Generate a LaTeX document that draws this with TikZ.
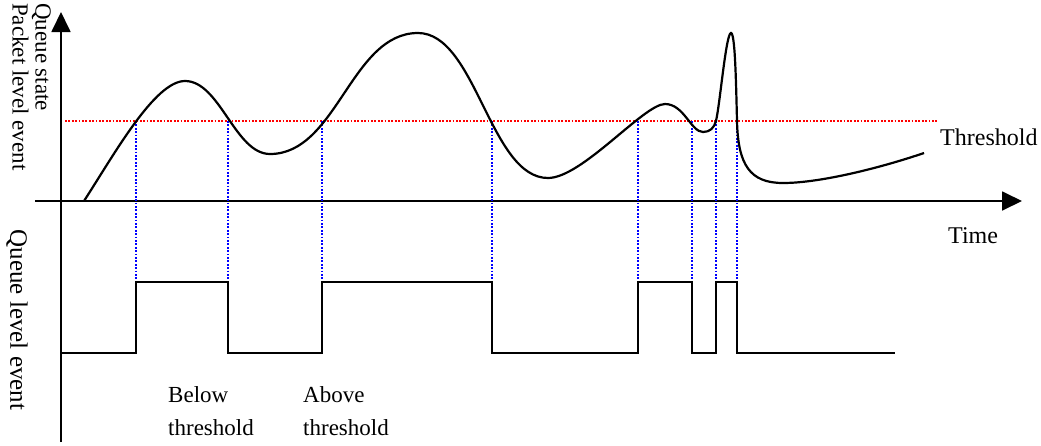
\documentclass[tikz,border=0pt]{standalone}
\usepackage{fontspec}
\setmainfont{Liberation Serif}
\usetikzlibrary{arrows.meta}

\begin{document}
\begin{tikzpicture}[x=1pt, y=-1pt,
  font=\fontsize{23}{33}\selectfont,
  axis/.style={line width=1.8pt, -{Triangle[length=20pt,width=19pt]}},
  level/.style={line width=1.8pt},
  dots/.style={line width=1.7pt, dash pattern=on 1.7pt off 1.7pt},
  drop/.style={dots, blue}]
\useasboundingbox (0,0) rectangle (1041,445);
\coordinate (ybot) at (61,442);
\coordinate (ytop) at (61,12);
\coordinate (xbeg) at (35,201);
\coordinate (xend) at (1022,201);
\coordinate (thbeg) at (65,121);
\coordinate (thend) at (938,121);
\draw[dots, red] (thbeg) -- (thend);
\draw[axis] (ybot) -- (ytop);
\draw[axis] (xbeg) -- (xend);
\foreach \x in {136,228,322,492,638,692,716,737} {
  \draw[drop] (\x,121) -- (\x,282);
}
\draw[line width=2.2pt] (84,201) .. controls (115,153) and (155,81) .. (185,81)
  .. controls (220,81) and (235,154) .. (270,154)
  .. controls (337,154) and (351,33) .. (418,33)
  .. controls (476,33) and (490,178) .. (548,178)
  .. controls (582,178) and (644,104) .. (665,104)
  .. controls (684,104) and (691,132) .. (703,132)
  .. controls (710,132) and (714,128) .. (716,121)
  .. controls (720,104) and (726,33) .. (731,33)
  .. controls (735,33) and (736,80) .. (737,121)
  .. controls (738,165) and (750,183) .. (783,183)
  .. controls (820,183) and (880,168) .. (924,153);
\draw[level] (61,353) -- (136,353) -- (136,282) -- (228,282) -- (228,353) -- (322,353) -- (322,282) -- (492,282) -- (492,353) -- (638,353) -- (638,282) -- (692,282) -- (692,353) -- (716,353) -- (716,282) -- (737,282) -- (737,353) -- (895,353);
\node[anchor=north west, inner sep=0, align=left, rotate=-90, font=\fontsize{23}{23}\selectfont] (pktlbl) at (51,3) {Queue state\\Packet level event};
\node[inner sep=0, rotate=-90, font=\fontsize{25}{25}\selectfont] (qlbl) at (17,320) {Queue level event};
\node[anchor=base west, inner sep=0, font=\fontsize{24}{24}\selectfont] (thlbl) at (940,145) {Threshold};
\node[anchor=base west, inner sep=0, font=\fontsize{24}{24}\selectfont] (tlbl) at (948,243) {Time};
\node[anchor=north west, inner sep=0, align=left] (below) at (168,386) {Below\\threshold};
\node[anchor=north west, inner sep=0, align=left] (above) at (303,386) {Above\\threshold};
\end{tikzpicture}
\end{document}
